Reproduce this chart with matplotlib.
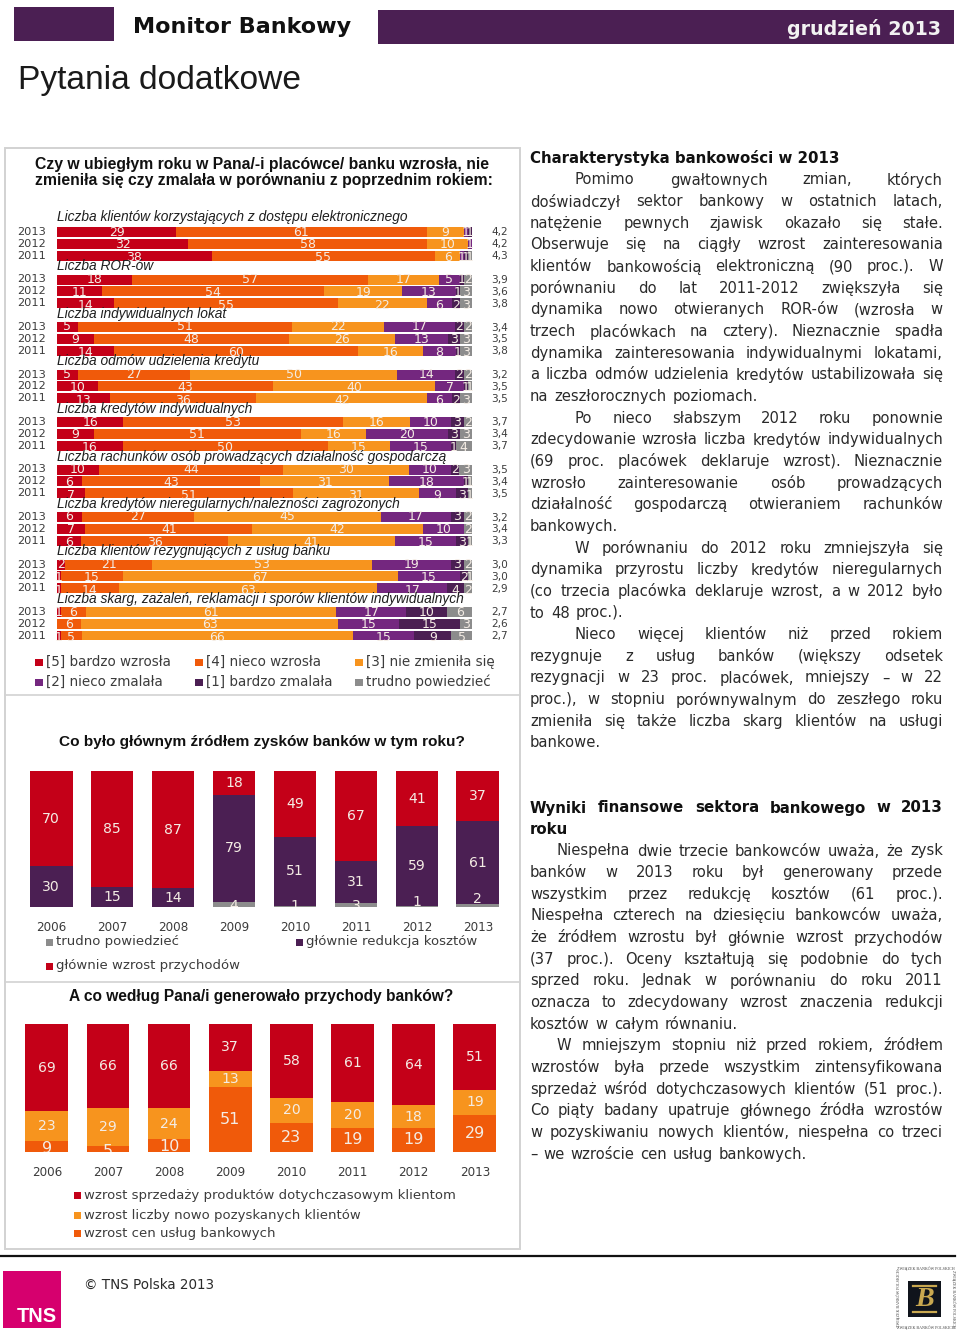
import matplotlib
matplotlib.use("Agg")
import matplotlib.pyplot as plt
from matplotlib.patches import Rectangle

plt.rcParams["font.family"] = ["Liberation Sans", "DejaVu Sans"]

W, H = 960, 1336
PX = 0.72  # px -> pt at dpi 100

PURPLE_DARK = "#4b1f53"
RED = "#c40018"
ORANGE_DARK = "#f05a0a"
ORANGE = "#f7941e"
PURPLE = "#74277f"
GRAY = "#8c8c8c"
TXT = "#3c3c3c"

# -----------------------------
# data: question 1 (5, 4, 3, 2, 1, trudno powiedziec)
# -----------------------------
row_years = ["2013", "2012", "2011"]
captions = [
    "Liczba klientów korzystających z dostępu elektronicznego",
    "Liczba ROR-ów",
    "Liczba indywidualnych lokat",
    "Liczba odmów udzielenia kredytu",
    "Liczba kredytów indywidualnych",
    "Liczba rachunków osób prowadzących działalność gospodarczą",
    "Liczba kredytów nieregularnych/należności zagrożonych",
    "Liczba klientów rezygnujących z usług banku",
    "Liczba skarg, zażaleń, reklamacji i sporów klientów indywidualnych",
]
klienci_el = [[29, 61, 9, 1, 1, 0], [32, 58, 10, 1, 0, 0], [38, 55, 6, 1, 1, 1]]
ror = [[18, 57, 17, 5, 1, 2], [11, 54, 19, 13, 1, 3], [14, 55, 22, 6, 2, 3]]
lokaty = [[5, 51, 22, 17, 2, 2], [9, 48, 26, 13, 3, 3], [14, 60, 16, 8, 1, 3]]
odmowy = [[5, 27, 50, 14, 2, 2], [10, 43, 40, 7, 1, 1], [13, 36, 42, 6, 2, 3]]
kredyty = [[16, 53, 16, 10, 3, 2], [9, 51, 16, 20, 3, 3], [16, 50, 15, 15, 1, 4]]
rachunki = [[10, 44, 30, 10, 2, 3], [6, 43, 31, 18, 1, 1], [7, 51, 31, 9, 3, 1]]
nieregularne = [[6, 27, 45, 17, 3, 2], [7, 41, 42, 10, 0, 2], [6, 36, 41, 15, 3, 1]]
rezygnacje = [[2, 21, 53, 19, 3, 2], [1, 15, 67, 15, 2, 1], [1, 14, 63, 17, 4, 2]]
skargi = [[1, 6, 61, 17, 10, 6], [0, 6, 63, 15, 15, 3], [1, 5, 66, 15, 9, 5]]
all_groups = [klienci_el, ror, lokaty, odmowy, kredyty, rachunki, nieregularne, rezygnacje, skargi]
means = [
    ["4,2", "4,2", "4,3"], ["3,9", "3,6", "3,8"], ["3,4", "3,5", "3,8"],
    ["3,2", "3,5", "3,5"], ["3,7", "3,4", "3,7"], ["3,5", "3,4", "3,5"],
    ["3,2", "3,4", "3,3"], ["3,0", "3,0", "2,9"], ["2,7", "2,6", "2,7"],
]
level_labels = ["[5] bardzo wzrosła", "[4] nieco wzrosła", "[3] nie zmieniła się",
                "[2] nieco zmalała", "[1] bardzo zmalała", "trudno powiedzieć"]
level_colors = [RED, ORANGE_DARK, ORANGE, PURPLE, PURPLE_DARK, GRAY]

# -----------------------------
# data: column charts
# -----------------------------
years = ["2006", "2007", "2008", "2009", "2010", "2011", "2012", "2013"]
trudno = [0, 0, 0, 4, 1, 3, 1, 2]
redukcja = [30, 15, 14, 79, 51, 31, 59, 61]
przychody = [70, 85, 87, 18, 49, 67, 41, 37]

ceny = [9, 5, 10, 51, 23, 19, 19, 29]
nowi = [23, 29, 24, 13, 20, 20, 18, 19]
sprzedaz = [69, 66, 66, 37, 58, 61, 64, 51]

# -----------------------------
# text column
# -----------------------------
para_1 = [
    "Pomimo gwałtownych zmian, których",
    "doświadczył sektor bankowy w ostatnich latach,",
    "natężenie pewnych zjawisk okazało się stałe.",
    "Obserwuje się na ciągły wzrost zainteresowania",
    "klientów bankowością elektroniczną (90 proc.). W",
    "porównaniu do lat 2011-2012 zwiększyła się",
    "dynamika nowo otwieranych ROR-ów (wzrosła w",
    "trzech placówkach na cztery). Nieznacznie spadła",
    "dynamika zainteresowania indywidualnymi lokatami,",
    "a liczba odmów udzielenia kredytów ustabilizowała się",
    "na zeszłorocznych poziomach.",
    "Po nieco słabszym 2012 roku ponownie",
    "zdecydowanie wzrosła liczba kredytów indywidualnych",
    "(69 proc. placówek deklaruje wzrost). Nieznacznie",
    "wzrosło zainteresowanie osób prowadzących",
    "działalność gospodarczą otwieraniem rachunków",
    "bankowych.",
    "W porównaniu do 2012 roku zmniejszyła się",
    "dynamika przyrostu liczby kredytów nieregularnych",
    "(co trzecia placówka deklaruje wzrost, a w 2012 było",
    "to 48 proc.).",
    "Nieco więcej klientów niż przed rokiem",
    "rezygnuje z usług banków (większy odsetek",
    "rezygnacji w 23 proc. placówek, mniejszy – w 22",
    "proc.), w stopniu porównywalnym do zeszłego roku",
    "zmieniła się także liczba skarg klientów na usługi",
    "bankowe.",
]
para_1_indent = [0, 11, 17, 21]
para_1_last = [10, 16, 20, 26]

para_2 = [
    "Niespełna dwie trzecie bankowców uważa, że zysk",
    "banków w 2013 roku był generowany przede",
    "wszystkim przez redukcję kosztów (61 proc.).",
    "Niespełna czterech na dziesięciu bankowców uważa,",
    "że źródłem wzrostu był głównie wzrost przychodów",
    "(37 proc.). Oceny kształtują się podobnie do tych",
    "sprzed roku. Jednak w porównaniu do roku 2011",
    "oznacza to zdecydowany wzrost znaczenia redukcji",
    "kosztów w całym równaniu.",
    "W mniejszym stopniu niż przed rokiem, źródłem",
    "wzrostów była przede wszystkim zintensyfikowana",
    "sprzedaż wśród dotychczasowych klientów (51 proc.).",
    "Co piąty badany upatruje głównego źródła wzrostów",
    "w pozyskiwaniu nowych klientów, niespełna co trzeci",
    "– we wzroście cen usług bankowych.",
]
para_2_indent = [0, 9]
para_2_last = [8, 14]

fig = plt.figure(figsize=(W / 100, H / 100), dpi=100, facecolor="white")
page = fig.add_axes([0, 0, 1, 1])
page.set_xlim(0, W)
page.set_ylim(H, 0)
page.axis("off")
page.set_zorder(3)  # captions sit on top of the bars


def px_axes(left, top, right, bottom):
    a = fig.add_axes([left / W, 1 - bottom / H, (right - left) / W, (bottom - top) / H])
    a.patch.set_alpha(0)
    return a


def txt(x, y, s, px=14, **kw):
    kw.setdefault("va", "center")
    kw.setdefault("color", TXT)
    return page.text(x, y, s, fontsize=px * PX, **kw)


def box(x0, y0, x1, y1, color, **kw):
    page.add_patch(Rectangle((x0, y0), x1 - x0, y1 - y0, facecolor=color, edgecolor="none", **kw))


renderer = fig.canvas.get_renderer()


def text_width(s, **kw):
    t = page.text(0, 0, s, **kw)
    w = t.get_window_extent(renderer).width
    t.remove()
    return w


def justified(x0, x1, y, line, px, family="DejaVu Sans", weight="normal", justify=True, color="#2a2a2a"):
    # word by word, gaps stretched so the line fills the column
    kw = dict(fontsize=px * PX, family=family, weight=weight)
    words = line.split(" ")
    widths = [text_width(w, **kw) for w in words]
    space = text_width("a a", **kw) - text_width("aa", **kw)
    gap = (x1 - x0 - sum(widths)) / (len(words) - 1) if justify and len(words) > 1 else space * 1.25
    x = x0
    for w, wd in zip(words, widths):
        page.text(x, y, w, va="center", ha="left", color=color, **kw)
        x += wd + gap


# -----------------------------
# header and frames
# -----------------------------
box(14, 7, 114, 41, PURPLE_DARK)
box(378, 10, 954, 44, PURPLE_DARK)
txt(133, 27, "Monitor Bankowy", px=22.3, weight="bold", color="#111111", family="DejaVu Sans")
txt(941, 29, "grudzień 2013", px=19, weight="bold", color="#f2f2f2", ha="right", family="DejaVu Sans")
txt(18, 81, "Pytania dodatkowe", px=33.5, color="#1a1a1a")

page.add_patch(Rectangle((4.5, 147.5), 515, 1101, facecolor="none", edgecolor="#d2d2d2", lw=1.4))
page.plot([4.5, 519.5], [695, 695], color="#d2d2d2", lw=1.2)
page.plot([4.5, 519.5], [982, 982], color="#d2d2d2", lw=1.2)

txt(262, 165, "Czy w ubiegłym roku w Pana/-i placówce/ banku wzrosła, nie", px=15.7, weight="bold", color="#111111", ha="center")
txt(264, 180, "zmieniła się czy zmalała w porównaniu z poprzednim rokiem:", px=15.7, weight="bold", color="#111111", ha="center")
txt(262, 742, "Co było głównym źródłem zysków banków w tym roku?", px=15.4, weight="bold", color="#111111", ha="center")
txt(261, 996, "A co według Pana/i generowało przychody banków?", px=15.5, weight="bold", color="#111111", ha="center")

# -----------------------------
# stacked rows
# -----------------------------
ROW0, ROW_STEP, GROUP_STEP, ROW_H = 232.0, 11.95, 47.5, 10
hax = px_axes(57, 200, 472, 640)
hax.set_xlim(0, 100)
hax.set_ylim(640, 200)
hax.axis("off")
label_drop = [0, 0.7, 2.0]

for g, rows in enumerate(all_groups):
    group_y = ROW0 + g * GROUP_STEP
    txt(57, group_y - (14.7 if g == 0 else 13), captions[g], px=13.8, style="italic", color="#1e1e1e")
    for r, vals in enumerate(rows):
        y = group_y + r * ROW_STEP
        total = sum(vals)
        left = 0
        txt(17, y, row_years[r], px=11.4, color=TXT, family="DejaVu Sans")
        txt(491, y + 0.5, means[g][r], px=10.5, color=TXT, family="DejaVu Sans")
        for v, c in zip(vals, level_colors):
            if v == 0:
                continue
            w = v / total * 100
            bar = hax.barh(y, w, left=left, height=ROW_H, color=c, linewidth=0)[0]
            t = hax.text(left + w / 2, y + label_drop[r], str(v), ha="center", va="center",
                         color="#f4ece4", fontsize=12.5 * PX, family="DejaVu Sans")
            t.set_clip_path(bar)
            left += w

# legend of the rows
for i, (lab, c) in enumerate(zip(level_labels, level_colors)):
    col, row = i % 3, i // 3
    lx = [35, 195, 355][col]
    ly = [662, 682][row]
    box(lx, ly - 3.5, lx + 8, ly + 4, c)
    txt(lx + 11, ly, lab, px=13.5, color=TXT, family="DejaVu Sans")


# -----------------------------
# column charts
# -----------------------------
def columns(left, top, bottom, step, series, colors, sizes, shifts):
    a = px_axes(left, top, left + 8 * step, bottom)
    a.set_xlim(-0.5, 7.5)
    a.set_ylim(0, 100)
    for s in a.spines.values():
        s.set_visible(False)
    a.set_yticks([])
    a.set_xticks(range(8))
    a.set_xticklabels(years, fontsize=12 * PX, color=TXT, family="DejaVu Sans")
    a.tick_params(axis="x", length=0, pad=10)
    for i in range(8):
        total = sum(s[i] for s in series)
        base = 0
        for k, (s, c) in enumerate(zip(series, colors)):
            if s[i] == 0:
                continue
            h = s[i] / total * 100
            a.bar(i, h, 0.7, bottom=base, color=c, linewidth=0)
            yy = base + h / 2
            if k == 0:
                yy += shifts[i]
            a.text(i, yy, str(s[i]), ha="center", va="center", color="#f4ece4",
                   fontsize=sizes[k] * PX, family="DejaVu Sans", clip_on=True)
            base += h
    return a


# the small bottom labels get cut by the baseline in the original
grey_shift = [0, 0, 0, -1, 0, -1, 3, 5]
ceny_shift = [-2, -2, -1, 0, 0, 0, 0, 0]
columns(20.7, 771, 907, 60.95, [trudno, redukcja, przychody], [GRAY, PURPLE_DARK, RED], [14, 14, 14], grey_shift)
columns(16.2, 1024, 1152, 61.15, [ceny, nowi, sprzedaz], [ORANGE_DARK, ORANGE, RED], [16, 14, 14], ceny_shift)

box(46, 938.5, 53, 945.5, GRAY)
txt(56, 942, "trudno powiedzieć", px=13.2, family="DejaVu Sans")
box(296, 938.5, 303, 945.5, PURPLE_DARK)
txt(306, 942, "głównie redukcja kosztów", px=13.2, family="DejaVu Sans")
box(46, 962.5, 53, 969.5, RED)
txt(56, 966, "głównie wzrost przychodów", px=13.2, family="DejaVu Sans")

for ly, lab, c in [(1195, "wzrost sprzedaży produktów dotychczasowym klientom", RED),
                   (1215, "wzrost liczby nowo pozyskanych klientów", ORANGE),
                   (1233, "wzrost cen usług bankowych", ORANGE_DARK)]:
    box(74, ly - 3.5, 81, ly + 3.5, c)
    txt(84, ly, lab, px=13.2, family="DejaVu Sans")

# -----------------------------
# text column
# -----------------------------
X0, X1, LEAD = 530, 943, 21.65
BODY_PX = 14.8
txt(530, 158, "Charakterystyka bankowości w 2013", px=15, weight="bold", color="#111111", family="DejaVu Sans")
for i, line in enumerate(para_1):
    x = 575 if i in para_1_indent else X0
    justified(x, X1, 180 + i * LEAD, line, BODY_PX, justify=i not in para_1_last)

justified(X0, X1, 808, "Wyniki finansowe sektora bankowego w 2013", 15, weight="bold", color="#111111")
txt(530, 829.5, "roku", px=15, weight="bold", color="#111111", family="DejaVu Sans")
for i, line in enumerate(para_2):
    x = 557 if i in para_2_indent else X0
    justified(x, X1, 851 + i * LEAD, line, BODY_PX, justify=i not in para_2_last)

# -----------------------------
# footer
# -----------------------------
page.plot([0, 955], [1256, 1256], color="#111111", lw=1.6)
box(3, 1271, 61, 1328, "#d6006e")
txt(36.5, 1316, "TNS", px=20, weight="bold", color="white", ha="center")
txt(84, 1285, "© TNS Polska 2013", px=13.5, family="DejaVu Sans", color="#2a2a2a")

box(908, 1281, 941, 1317, "#10141c")
page.plot([913, 936], [1286, 1286], color="#c9a850", lw=1.6)
page.plot([913, 936], [1312, 1312], color="#c9a850", lw=1.6)
txt(924.5, 1299, "B", px=28, family="Liberation Serif", style="italic", weight="bold", color="#c9a850", ha="center")
zbp = "ZWIĄZEK BANKÓW POLSKICH"
tiny = dict(px=4, family="Liberation Serif", color="#444444", ha="center")
txt(926, 1269, zbp, **tiny)
txt(926, 1328, zbp, **tiny)
txt(899, 1298.5, zbp, rotation=90, **tiny)
txt(953, 1298.5, zbp, rotation=270, **tiny)

fig.savefig("out.png", dpi=100)
